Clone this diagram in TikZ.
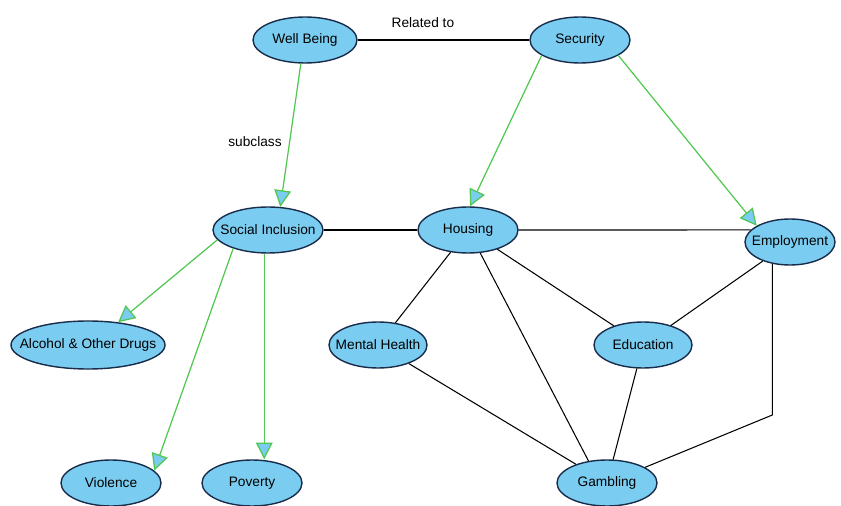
\documentclass[tikz,border=0pt]{standalone}
\usepackage{fontspec}
\setmainfont{Liberation Sans}
\usetikzlibrary{shapes.geometric,arrows.meta}
\definecolor{nodeblue}{RGB}{122,204,240}
\definecolor{rimblue}{RGB}{25,45,75}
\definecolor{subgreen}{RGB}{80,200,80}
\newcommand{\tname}[1]{\makebox[0pt]{#1}}
\tikzset{topicnode/.style={shape=ellipse, fill=nodeblue, draw=rimblue, line width=0.8pt, inner sep=0pt, minimum width=100*0.02cm, minimum height=46*0.02cm, font=\fontsize{7.8}{9}\selectfont},
isa/.style={draw=subgreen, line width=0.7pt, -{Triangle[open, fill=nodeblue, length=9.5pt, width=9.5pt]}},
link/.style={draw=black, line width=0.6pt}}

\begin{document}
\begin{tikzpicture}[x=0.02cm, y=-0.02cm]
\useasboundingbox (0,0) rectangle (841,506);
\node[style=topicnode, minimum width=104*0.02cm] (wellbeing) at (305,40) {\tname{Well Being}};
\node[style=topicnode] (security) at (580,40) {\tname{Security}};
\node[style=topicnode, minimum width=110*0.02cm] (social) at (268,230) {\tname{Social Inclusion}};
\node[style=topicnode] (housing) at (468,230) {\tname{Housing}};
\node[style=topicnode, minimum width=90*0.02cm] (employment) at (790,242) {\tname{Employment}};
\node[style=topicnode, minimum width=154*0.02cm, minimum height=48*0.02cm] (alcohol) at (88,345) {\tname{Alcohol \& Other Drugs}};
\node[style=topicnode, minimum width=98*0.02cm] (mental) at (378,345) {\tname{Mental Health}};
\node[style=topicnode, minimum width=98*0.02cm] (education) at (643,345) {\tname{Education}};
\node[style=topicnode] (violence) at (111,483) {\tname{Violence}};
\node[style=topicnode] (poverty) at (252,483) {\tname{Poverty}};
\node[style=topicnode] (gambling) at (607,483) {\tname{Gambling}};
\coordinate (bend) at (773,415);
\draw [style=link] (wellbeing) -- node[pos=0.38, above=3.6pt, font=\fontsize{7.8}{9}\selectfont] {Related to} (security);
\draw [style=isa] (wellbeing.-100) -- (social.62);
\node[font=\fontsize{7.8}{9}\selectfont] (subclass) at (255,142) {subclass};
\draw [style=isa] (security.202) -- (housing.85);
\draw [style=isa] (security.338) -- (employment.154);
\draw [style=isa] (social.191) -- (alcohol.37);
\draw [style=isa] (social.208) -- (violence.16);
\draw [style=isa] (social.-99) -- (social.-99 |- poverty.north);
\draw [style=link] (social) -- (housing);
\draw [style=link] (housing.east) -- (employment.163);
\draw [style=link] (housing) -- (mental);
\draw [style=link] (housing.-62) -- (gambling.130);
\draw [style=link] (housing) -- (education);
\draw [style=link] (education) -- (employment);
\draw [style=link] (mental) -- (gambling);
\draw [style=link] (education) -- (gambling);
\draw [style=link] (employment.-129) -- (employment.-129 |- bend) -- (gambling);
\end{tikzpicture}
\end{document}
